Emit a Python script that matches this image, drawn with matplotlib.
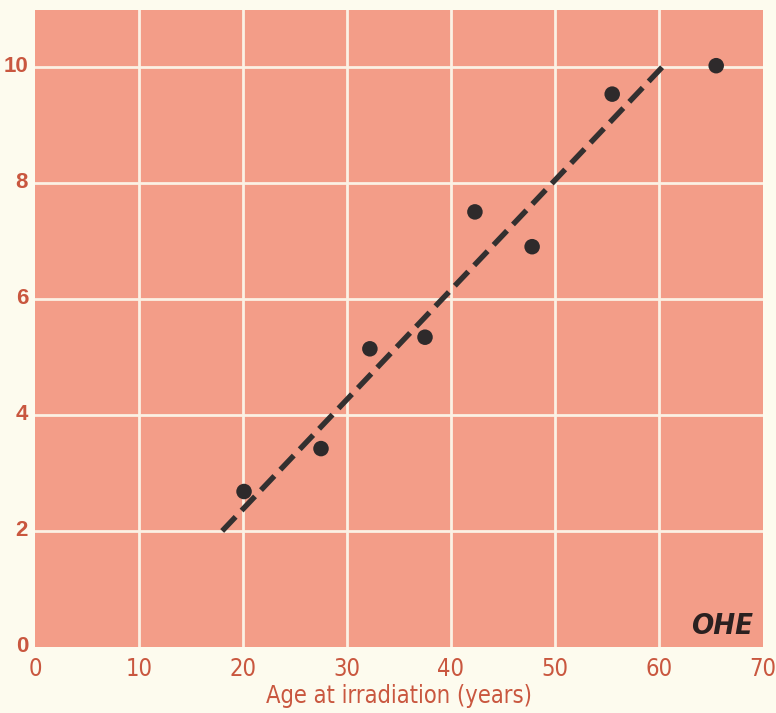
import matplotlib
matplotlib.use("Agg")
import matplotlib.pyplot as plt
from matplotlib import font_manager as fm
from matplotlib.transforms import IdentityTransform

# data
age = [20.1, 27.5, 32.2, 37.5, 42.3, 47.8, 55.5, 65.5]
value = [2.68, 3.42, 5.14, 5.34, 7.50, 6.90, 9.53, 10.02]
fit_x = [18.0, 60.6]
fit_y = [2.0, 10.05]
x_ticks = [0, 10, 20, 30, 40, 50, 60, 70]
y_ticks = [0, 2, 4, 6, 8, 10]
x_label = "Age at irradiation (years)"

bg = "#fdfbee"
pink = "#f39d88"
txt = "#c9573f"
dark = "#2e2a2b"

# find a narrow/condensed font file if any
narrow_path = None
for f in fm.fontManager.ttflist:
    n = f.name.lower()
    p = f.fname.lower()
    if ("narrow" in n or "narrow" in p or "condensed" in p) and \
            "bold" not in p and "italic" not in p and "oblique" not in p:
        narrow_path = narrow_path or f.fname


def fp(size):
    if narrow_path:
        return fm.FontProperties(fname=narrow_path, size=size)
    return fm.FontProperties(family="DejaVu Sans", size=size, stretch="condensed")


fig = plt.figure(figsize=(7.76, 7.13), dpi=100, facecolor=bg)
ax = fig.add_axes([35/776, 1-647/713, 728/776, 637/713])
ax.set_facecolor(pink)
ax.set_xlim(0, 70)
ax.set_ylim(0, 10.98)
for s in ax.spines.values():
    s.set_visible(False)
ax.set_xticks(x_ticks)
ax.set_yticks(y_ticks)
ax.set_xticklabels([str(t) for t in x_ticks], fontproperties=fp(17), color=txt)
ax.set_yticklabels([str(t) for t in y_ticks],
                   fontproperties=fm.FontProperties(family="Liberation Sans", weight="bold", size=16),
                   color=txt, va="center")
ax.grid(True, color="#fbf1e4", linewidth=2)
ax.set_axisbelow(True)
ax.tick_params(length=0)
ax.tick_params(axis="x", pad=7)
ax.tick_params(axis="y", pad=5)
# hide grid at the axes edges (x=0, x=70, y=0)
ax.get_xgridlines()[-1].set_visible(False)
ax.get_xgridlines()[0].set_visible(False)
ax.get_ygridlines()[0].set_visible(False)

ax.plot(fit_x, fit_y, color="#333030", linewidth=3.9, dashes=(3.6, 1.6),
        solid_capstyle="butt", dash_capstyle="butt", zorder=3)
ax.scatter(age, value, s=125, color=dark, zorder=4, edgecolors="none")

ax.set_xlabel(x_label, fontproperties=fp(17), color=txt, labelpad=2)

ax.text(753, 713 - 640, "OHE", transform=IdentityTransform(), ha="right", va="bottom",
        fontproperties=fm.FontProperties(family="DejaVu Sans", weight="bold",
                                         style="italic", size=21, stretch="condensed"),
        color="#2a2020", zorder=5)

fig.savefig("out.png", dpi=100, facecolor=bg)
